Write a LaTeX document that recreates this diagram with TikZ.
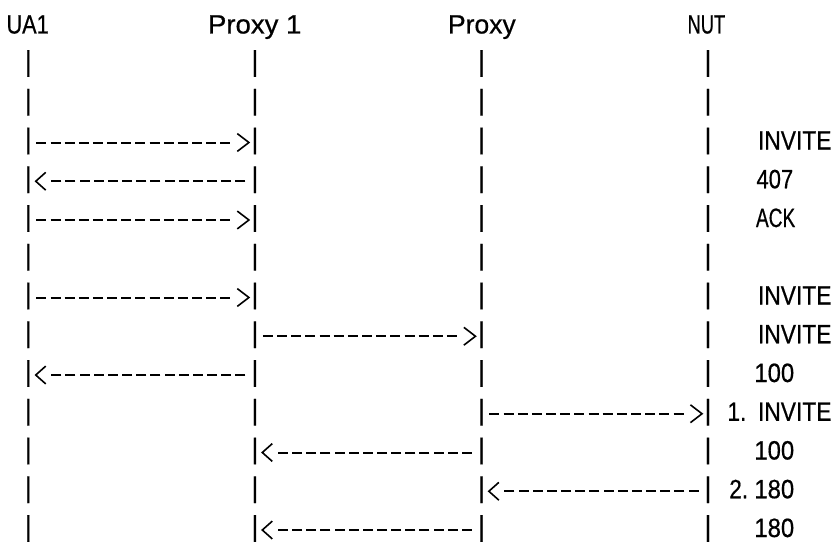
\documentclass[tikz,border=0pt]{standalone}
\usepackage{fontspec}
\setmainfont{Liberation Sans}
\newfontfamily\gfont{Liberation Sans}[FakeBold=0.6]
\usepackage{graphicx}
\newcommand{\vbarch}{\scalebox{1}[1.08]{|}}
\newcommand{\colx}[1]{7.1+(#1+0.5)*14.16}
\newcommand{\rowy}[1]{63.5+(#1-1)*38.75}
% message to the right: #1 row, #2 left lifeline, #3 right lifeline
\newcommand{\rmsg}[3]{%
  \draw[msg] ([xshift=8pt,yshift=-1.5pt]bar#2#1.center) -- ([xshift=-24.5pt,yshift=-1.5pt]bar#3#1.center);
  \draw[chev] ([xshift=-17.6pt,yshift=7.4pt]bar#3#1.center) -- ([xshift=-6pt,yshift=-1.5pt]bar#3#1.center) -- ([xshift=-17.6pt,yshift=-10.4pt]bar#3#1.center);}
% message to the left: #1 row, #2 left lifeline, #3 right lifeline
\newcommand{\lmsg}[3]{%
  \draw[msg] ([xshift=-9.5pt,yshift=-1.5pt]bar#3#1.center) -- ([xshift=23pt,yshift=-1.5pt]bar#2#1.center);
  \draw[chev] ([xshift=17.4pt,yshift=7.4pt]bar#2#1.center) -- ([xshift=7.4pt,yshift=-1.5pt]bar#2#1.center) -- ([xshift=17.4pt,yshift=-10.4pt]bar#2#1.center);}
\begin{document}
\begin{tikzpicture}[x=1pt,y=-1pt,
  ch/.style={inner sep=0pt,outer sep=0pt,font=\gfont\fontsize{26.5}{26.5}\selectfont},
  lifebar/.style={ch,anchor=center},
  lbl/.style={ch,anchor=base west},
  msg/.style={draw=black,line width=2pt,dash pattern=on 10pt off 4.16pt},
  chev/.style={draw=black,line width=1.6pt,line join=miter}]
\useasboundingbox[fill=white] (0,0) rectangle (838,543);
% headers
\node[lbl] (ua1) at (6.5,33.5) {\scalebox{0.82}[1]{UA1}};
\node[lbl] (p1) at (208,33.5) {\scalebox{1.04}[1]{Proxy 1}};
\node[lbl] (p) at (448,33.5) {\scalebox{1.0}[1]{Proxy}};
\node[lbl] (nut) at (687.6,33.5) {\scalebox{0.69}[1]{NUT}};
% lifelines made of bar characters
\foreach \r in {1,...,13}{
  \foreach \c/\n in {1/a,17/b,33/c,49/d}{
    \node[lifebar] (bar\n\r) at ({\colx{\c}},{\rowy{\r}}) {\vbarch};
  }
}
% messages
\rmsg{3}{a}{b}
\lmsg{4}{a}{b}
\rmsg{5}{a}{b}
\rmsg{7}{a}{b}
\rmsg{8}{b}{c}
\lmsg{9}{a}{b}
\rmsg{10}{c}{d}
\lmsg{11}{b}{c}
\lmsg{12}{c}{d}
\lmsg{13}{b}{c}
% labels
\node[lbl] (l3) at (758,{\rowy{3}+8.5}) {\scalebox{0.86}[1]{INVITE}};
\node[lbl] (l4) at (756.5,{\rowy{4}+8.5}) {\scalebox{0.83}[1]{407}};
\node[lbl] (l5) at (756,{\rowy{5}+8.5}) {\scalebox{0.72}[1]{ACK}};
\node[lbl] (l7) at (758,{\rowy{7}+8.5}) {\scalebox{0.86}[1]{INVITE}};
\node[lbl] (l8) at (758,{\rowy{8}+8.5}) {\scalebox{0.86}[1]{INVITE}};
\node[lbl] (l9) at (754.4,{\rowy{9}+8.5}) {\scalebox{0.9}[1]{100}};
\node[lbl] (n10) at (727.5,{\rowy{10}+8.5}) {\scalebox{0.85}[1]{1.}};
\node[lbl] (l10) at (758,{\rowy{10}+8.5}) {\scalebox{0.86}[1]{INVITE}};
\node[lbl] (l11) at (754.4,{\rowy{11}+8.5}) {\scalebox{0.9}[1]{100}};
\node[lbl] (n12) at (729.3,{\rowy{12}+8.5}) {\scalebox{0.85}[1]{2.}};
\node[lbl] (l12) at (754.4,{\rowy{12}+8.5}) {\scalebox{0.9}[1]{180}};
\node[lbl] (l13) at (754.4,{\rowy{13}+8.5}) {\scalebox{0.9}[1]{180}};
\end{tikzpicture}
\end{document}
